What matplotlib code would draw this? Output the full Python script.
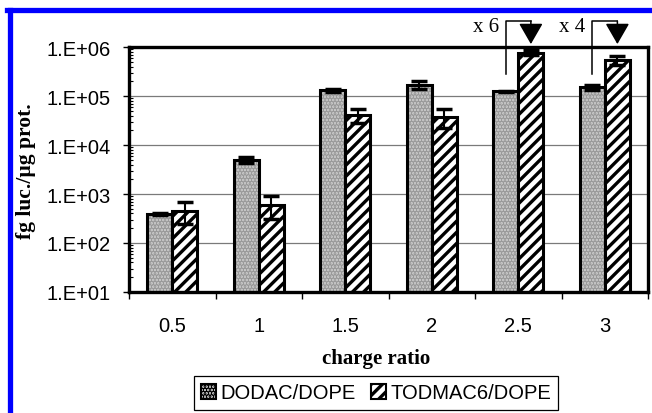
import numpy as np
import matplotlib
matplotlib.use('Agg')
from matplotlib import pyplot as plt
from matplotlib.lines import Line2D
from matplotlib.patches import Patch
from matplotlib.ticker import FixedLocator, LogLocator, NullFormatter


charge_ratio = ['0.5', '1', '1.5', '2', '2.5', '3']

dodac = [390, 5000, 130000, 170000, 125000, 150000]
dodac_err = [20, 700, 8000, 30000, 4000, 17000]

todmac = [460, 600, 41000, 38000, 770000, 540000]
todmac_err = [220, 290, 13000, 16000, 90000, 120000]

fold_labels = ['x 6', 'x 4']
fold_groups = [4, 5]

plt.rcParams['hatch.linewidth'] = 2.4
plt.rcParams['font.family'] = ['Liberation Sans', 'DejaVu Sans']

fig = plt.figure(figsize=(6.52, 4.14), dpi=100)
ax = fig.add_axes([0.198, 0.2923, 0.796, 0.5917])

x = np.arange(len(charge_ratio)) + 0.5
w = 0.29

ax.set_yscale('log')
ax.set_ylim(10, 1e6)
ax.set_xlim(0, len(charge_ratio))
ax.yaxis.grid(True, which='major', color='#7a7a7a', linewidth=0.9)
ax.set_axisbelow(True)

# DODAC: grey stipple
ax.bar(x - w / 2, dodac, w, color='#cbcbcb', edgecolor='#9a9a9a',
       hatch='.....', linewidth=0, zorder=2)
ax.bar(x - w / 2, dodac, w, fill=False, edgecolor='black', linewidth=2.2, zorder=3)

# TODMAC6: bold diagonal stripes
ax.bar(x + w / 2, todmac, w, color='white', edgecolor='black',
       hatch='///', linewidth=2.2, zorder=3)

ax.errorbar(x - w / 2, dodac, yerr=dodac_err, fmt='none', ecolor='black',
            elinewidth=1.5, capsize=6, capthick=2.5, zorder=4)
ax.errorbar(x + w / 2, todmac, yerr=todmac_err, fmt='none', ecolor='black',
            elinewidth=1.5, capsize=6, capthick=2.5, zorder=4)

for s in ax.spines.values():
    s.set_linewidth(2.4)
    s.set_zorder(5)

ax.set_yticks([1e1, 1e2, 1e3, 1e4, 1e5, 1e6])
ax.set_yticklabels(['1.E+01', '1.E+02', '1.E+03', '1.E+04', '1.E+05', '1.E+06'])
ax.yaxis.set_minor_locator(LogLocator(base=10, subs=np.arange(2, 10)))
ax.yaxis.set_minor_formatter(NullFormatter())
ax.tick_params(axis='y', which='major', direction='out', length=4, width=1,
               pad=9, labelsize=14.5)
ax.tick_params(axis='y', which='minor', direction='in', length=3, width=0.8)

ax.set_xticks(x)
ax.set_xticklabels(charge_ratio)
ax.xaxis.set_minor_locator(FixedLocator(np.arange(len(charge_ratio) + 1)))
ax.tick_params(axis='x', which='major', length=0, pad=17, labelsize=14.5)
ax.tick_params(axis='x', which='minor', direction='out', length=5, width=1)

fig.text(0.577, 1 - 359 / 414, 'charge ratio', family='Liberation Serif',
         fontweight='bold', fontsize=15, ha='center', va='center')
fig.text(26 / 652, 1 - 171 / 414, 'fg luc./µg prot.', family='Liberation Serif',
         fontweight='bold', fontsize=15.5, rotation=90, ha='center', va='center')

# fold-increase brackets above the last two groups
top = 10 ** 6.53
for label, g in zip(fold_labels, fold_groups):
    x0 = x[g] - w / 2
    x1 = x[g] + w / 2
    ax.plot([x0, x0, x1], [10 ** 5.45, top, top], color='black',
            linewidth=1.1, clip_on=False, zorder=6)
    ax.annotate('', xy=(x1, 10 ** 6.06), xytext=(x1, top),
                arrowprops=dict(arrowstyle='-|>,head_length=1.3,head_width=0.75',
                                color='black', linewidth=1.1, shrinkA=0, shrinkB=0),
                annotation_clip=False, zorder=6)
    ax.text(x0 - 0.08, 10 ** 6.42, label, family='Liberation Serif', fontsize=15,
            ha='right', va='center', clip_on=False)

handles = [Patch(facecolor='#cbcbcb', edgecolor='black', linewidth=1.5, hatch='.....'),
           Patch(facecolor='white', edgecolor='black', linewidth=1.5, hatch='///')]
leg = fig.legend(handles, ['DODAC/DOPE', 'TODMAC6/DOPE'], loc='center',
                 bbox_to_anchor=(376 / 652, 1 - 394 / 414), ncol=2, fontsize=14.5,
                 frameon=True, fancybox=False, framealpha=1, edgecolor='black',
                 handlelength=0.75, handleheight=0.75, handletextpad=0.2,
                 columnspacing=0.8, borderpad=0.35, borderaxespad=0)
leg.get_frame().set_linewidth(0.9)

# blue frame along the top and left edges
fig.add_artist(Line2D([9.5 / 652, 9.5 / 652], [0, 1 - 10.5 / 414],
                      transform=fig.transFigure, color='#0000ff', linewidth=3.8))
fig.add_artist(Line2D([7 / 652, 1], [1 - 10.5 / 414, 1 - 10.5 / 414],
                      transform=fig.transFigure, color='#0000ff', linewidth=3.8))

fig.savefig('out.png', dpi=100)
